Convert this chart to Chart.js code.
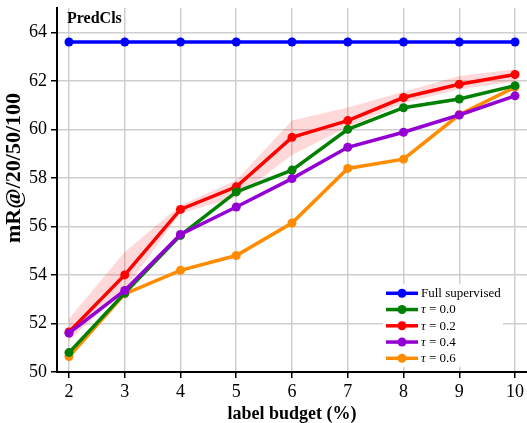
<!DOCTYPE html>
<html>
<head>
<meta charset="utf-8">
<script src="https://cdn.jsdelivr.net/npm/chart.js@4.4.0/dist/chart.umd.min.js"></script>
<style>
html,body{margin:0;padding:0;background:#fff;}
#wrap{width:527px;height:423px;position:relative;}
</style>
</head>
<body>
<div id="wrap"><canvas id="c" width="527" height="423"></canvas></div>
<script>
// ---- data ----
const budgets = [2, 3, 4, 5, 6, 7, 8, 9, 10];
const fullSupervised = [63.6, 63.6, 63.6, 63.6, 63.6, 63.6, 63.6, 63.6, 63.6];
const tau00 = [50.8, 53.25, 55.63, 57.42, 58.32, 60.0, 60.89, 61.25, 61.8];
const tau02 = [51.65, 54.0, 56.7, 57.63, 59.67, 60.36, 61.31, 61.86, 62.26];
const tau04 = [51.6, 53.36, 55.67, 56.8, 57.97, 59.26, 59.88, 60.59, 61.38];
const tau06 = [50.64, 53.22, 54.19, 54.8, 56.14, 58.39, 58.77, 60.6, 61.74];
const tau02Upper = [52.2, 54.94, 56.87, 57.9, 60.36, 60.9, 61.55, 62.2, 62.48];
const tau02Lower = [51.3, 53.4, 56.54, 57.2, 58.94, 60.1, 61.07, 61.65, 61.97];
const seriesNames = ['Full supervised', 'τ = 0.0', 'τ = 0.2', 'τ = 0.4', 'τ = 0.6'];
const xTicks = [2, 3, 4, 5, 6, 7, 8, 9, 10];
const yTicks = [50, 52, 54, 56, 58, 60, 62, 64];
const panelTitle = 'PredCls';
const xTitle = 'label budget (%)';
const yTitle = 'mR@/20/50/100';

const colors = {
  blue: '#0000ff', green: '#008000', red: '#ff0000', purple: '#9400d3', orange: '#ff8c00'
};

const pts = arr => budgets.map((b, i) => ({x: b, y: arr[i]}));
const serif = '"Liberation Serif", "DejaVu Serif", serif';

function lineDs(label, arr, color) {
  return {
    label, data: pts(arr), borderColor: color, backgroundColor: color,
    borderWidth: 3.5, pointRadius: 4.5, pointBorderWidth: 0, pointHoverRadius: 4.5,
    fill: false, tension: 0
  };
}

// order: index 0 drawn on top
const datasets = [
  lineDs(seriesNames[0], fullSupervised, colors.blue),
  lineDs(seriesNames[3], tau04, colors.purple),
  lineDs(seriesNames[1], tau00, colors.green),
  lineDs(seriesNames[2], tau02, colors.red),
  lineDs(seriesNames[4], tau06, colors.orange),
  {label: 'band-lower', data: pts(tau02Lower), borderWidth: 0, pointRadius: 0, fill: false, borderColor: 'rgba(0,0,0,0)'},
  {label: 'band-upper', data: pts(tau02Upper), borderWidth: 0, pointRadius: 0, fill: '-1', borderColor: 'rgba(0,0,0,0)', backgroundColor: 'rgba(255,0,0,0.15)'}
];

const legendOrder = [
  {name: seriesNames[0], color: colors.blue},
  {name: seriesNames[1], color: colors.green},
  {name: seriesNames[2], color: colors.red},
  {name: seriesNames[3], color: colors.purple},
  {name: seriesNames[4], color: colors.orange}
];

const overlay = {
  id: 'overlay',
  afterDraw(chart) {
    const ctx = chart.ctx;
    ctx.save();
    ctx.fillStyle = '#000';
    ctx.font = 'bold 16px ' + serif;
    ctx.textBaseline = 'alphabetic';
    ctx.textAlign = 'left';
    ctx.fillText(panelTitle, 67, 22.5);
    // y axis title
    ctx.save();
    ctx.translate(14, 168);
    ctx.rotate(-Math.PI / 2);
    ctx.font = 'bold 22px ' + serif;
    ctx.textAlign = 'center';
    ctx.textBaseline = 'middle';
    ctx.fillText(yTitle, 0, 0);
    ctx.restore();
    // legend
    ctx.fillStyle = '#fff';
    ctx.fillRect(383, 284, 120, 83);
    const y0 = 293.3, dy = 16.25;
    legendOrder.forEach((it, i) => {
      const y = y0 + i * dy;
      ctx.strokeStyle = it.color;
      ctx.lineWidth = 3.5;
      ctx.beginPath();
      ctx.moveTo(386, y);
      ctx.lineTo(418, y);
      ctx.stroke();
      ctx.fillStyle = it.color;
      ctx.beginPath();
      ctx.arc(402, y, 4.5, 0, Math.PI * 2);
      ctx.fill();
      ctx.fillStyle = '#000';
      ctx.textBaseline = 'middle';
      ctx.textAlign = 'left';
      let x = 421;
      if (it.name.startsWith('τ')) {
        ctx.font = 'italic 13px ' + serif;
        ctx.fillText('τ', x, y + 0.5);
        x += ctx.measureText('τ').width;
        ctx.font = '13px ' + serif;
        ctx.fillText(it.name.slice(1), x, y + 0.5);
      } else {
        ctx.font = '13px ' + serif;
        ctx.fillText(it.name, x, y + 0.5);
      }
    });
    ctx.restore();
  }
};

new Chart(document.getElementById('c'), {
  type: 'line',
  data: {datasets},
  options: {
    responsive: false,
    animation: false,
    events: [],
    layout: {autoPadding: false, padding: {top: 8, right: 0, left: 0, bottom: 0}},
    plugins: {
      legend: {display: false},
      tooltip: {enabled: false},
      filler: {drawTime: 'beforeDatasetsDraw'}
    },
    scales: {
      x: {
        type: 'linear', min: 1.785, max: 10.215,
        afterBuildTicks: s => { s.ticks = xTicks.map(v => ({value: v})); },
        afterFit: s => { s.height = 51; s.paddingLeft = 0; s.paddingRight = 0; },
        grid: {color: '#cfcfcf', lineWidth: 1.5, tickColor: '#000', tickLength: 6, tickWidth: 1.5},
        border: {color: '#000', width: 2},
        ticks: {color: '#000', font: {family: serif, size: 18}, padding: 3, maxRotation: 0, autoSkip: false},
        title: {display: true, text: xTitle, color: '#000', font: {family: serif, size: 18, weight: 'bold', lineHeight: 1}, padding: {top: 0, bottom: 0}}
      },
      y: {
        type: 'linear', min: 50, max: 65,
        afterBuildTicks: s => { s.ticks = yTicks.map(v => ({value: v})); },
        afterFit: s => { s.width = 57; s.paddingTop = 0; s.paddingBottom = 0; },
        grid: {color: '#cfcfcf', lineWidth: 1.5, tickColor: '#000', tickLength: 6, tickWidth: 1.5},
        border: {color: '#000', width: 2},
        ticks: {color: '#000', font: {family: serif, size: 18}, padding: 4, autoSkip: false},
        title: {display: false}
      }
    }
  },
  plugins: [overlay]
});
</script>
</body>
</html>
